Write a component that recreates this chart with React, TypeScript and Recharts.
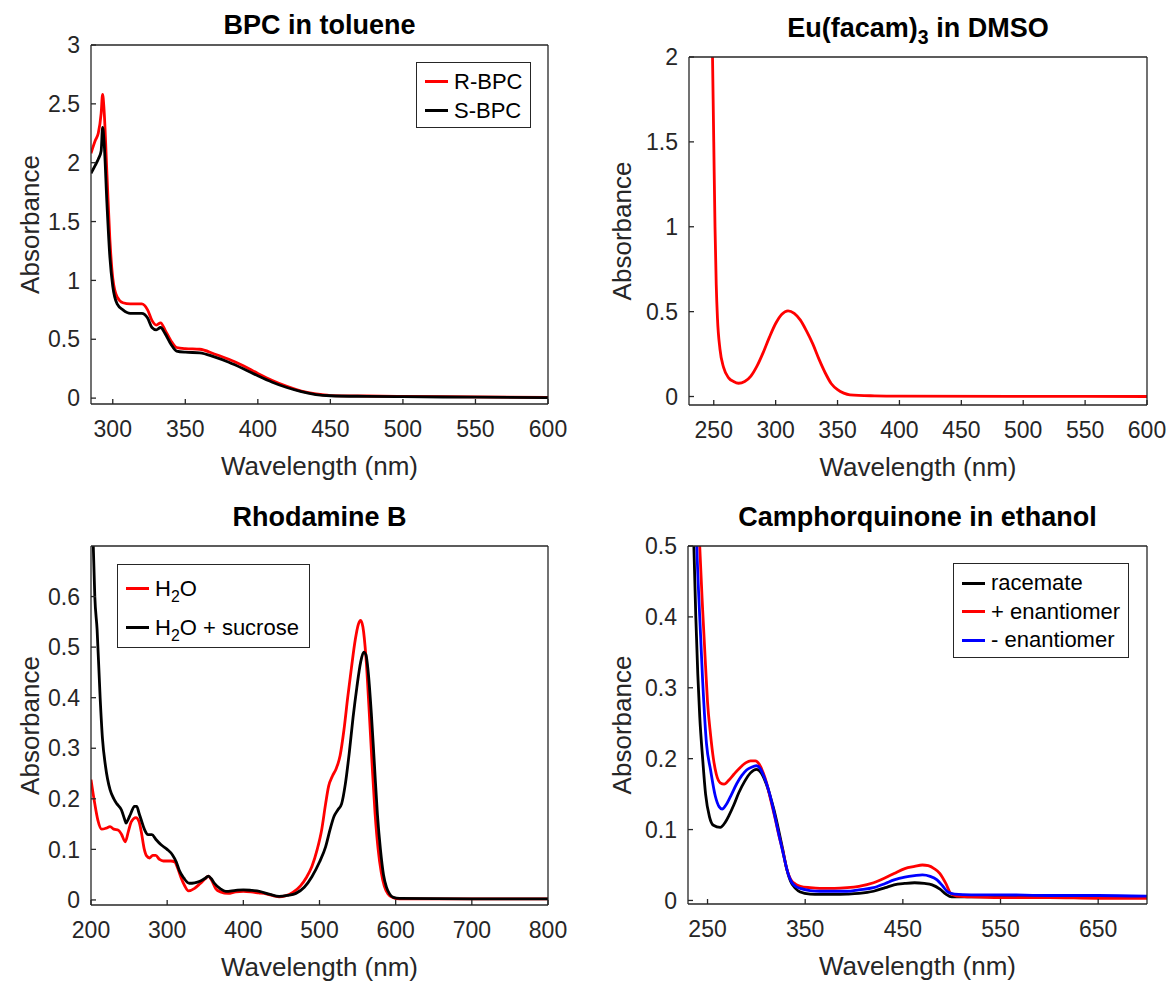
import React from 'react';
import { LineChart, Line, XAxis, YAxis, Legend } from 'recharts';

const FONT = '"Liberation Sans", Arial, Helvetica, sans-serif';
const INK = '#262626';
const PANEL_W = 585;
const XAXIS_H = 70;

// BPC in toluene
const bpcWavelengths = [285, 288, 290, 292, 293, 294, 296, 298, 300, 303, 307, 312, 317, 320, 324, 327, 330, 333, 336, 340, 344, 350, 360, 370, 380, 390, 400, 410, 420, 430, 440, 450, 475, 500, 550, 600];
const rBpcAbs = [2.08, 2.19, 2.25, 2.42, 2.58, 2.45, 1.9, 1.35, 1.02, 0.86, 0.81, 0.8, 0.8, 0.8, 0.75, 0.66, 0.62, 0.64, 0.58, 0.49, 0.43, 0.42, 0.415, 0.375, 0.33, 0.275, 0.21, 0.15, 0.1, 0.06, 0.035, 0.022, 0.018, 0.015, 0.01, 0.005];
const sBpcAbs = [1.91, 1.98, 2.03, 2.1, 2.3, 2.18, 1.65, 1.2, 0.95, 0.8, 0.75, 0.72, 0.72, 0.72, 0.68, 0.6, 0.58, 0.6, 0.55, 0.46, 0.4, 0.39, 0.385, 0.35, 0.305, 0.25, 0.19, 0.135, 0.09, 0.055, 0.03, 0.02, 0.015, 0.012, 0.008, 0.004];
const bpcXTicks = [300, 350, 400, 450, 500, 550, 600];
const bpcYTicks = [0, 0.5, 1, 1.5, 2, 2.5, 3];

// Eu(facam)3 in DMSO
const euWavelengths = [245, 247, 249, 250, 251, 252, 253, 255, 258, 262, 266, 270, 275, 280, 285, 290, 295, 300, 305, 310, 315, 320, 325, 330, 335, 340, 345, 350, 355, 360, 380, 400, 500, 600];
const euAbs = [4.0, 3.0, 2.0, 1.5, 1.0, 0.66, 0.46, 0.28, 0.17, 0.11, 0.088, 0.078, 0.088, 0.12, 0.18, 0.26, 0.35, 0.43, 0.485, 0.505, 0.49, 0.45, 0.385, 0.31, 0.22, 0.14, 0.075, 0.04, 0.02, 0.01, 0.004, 0.002, 0.001, 0];
const euXTicks = [250, 300, 350, 400, 450, 500, 550, 600];
const euYTicks = [0, 0.5, 1, 1.5, 2];

// Rhodamine B
const h2oWavelengths = [200, 205, 209, 214, 220, 225, 230, 236, 240, 245, 249, 253, 259, 263, 266, 270, 273, 277, 281, 285, 290, 295, 305, 310, 314, 318, 323, 328, 336, 343, 350, 354, 358, 364, 370, 380, 390, 400, 410, 420, 430, 440, 447, 455, 465, 475, 483, 490, 497, 503, 508, 512, 517, 522, 527, 532, 537, 542, 547, 551, 554, 557, 561, 565, 569, 573, 577, 581, 585, 590, 596, 605, 700, 800];
const h2oAbs = [0.238, 0.19, 0.158, 0.14, 0.142, 0.145, 0.14, 0.138, 0.13, 0.115, 0.135, 0.155, 0.163, 0.155, 0.135, 0.1, 0.087, 0.083, 0.088, 0.088, 0.08, 0.077, 0.077, 0.075, 0.062, 0.045, 0.028, 0.018, 0.023, 0.032, 0.042, 0.047, 0.04, 0.022, 0.016, 0.013, 0.016, 0.017, 0.016, 0.014, 0.012, 0.008, 0.006, 0.008, 0.015, 0.028, 0.045, 0.066, 0.1, 0.14, 0.19, 0.225, 0.245, 0.26, 0.285, 0.335, 0.4, 0.46, 0.515, 0.545, 0.553, 0.54, 0.48, 0.38, 0.27, 0.17, 0.1, 0.055, 0.028, 0.012, 0.005, 0.002, 0.002, 0.002];
const sucroseWavelengths = [200, 203, 205, 208, 212, 215, 219, 225, 230, 234, 240, 244, 246, 249, 252, 257, 260, 263, 266, 270, 275, 280, 285, 292, 300, 307, 312, 316, 322, 329, 336, 343, 350, 354, 358, 362, 370, 377, 390, 400, 410, 421, 435, 447, 458, 469, 480, 490, 500, 508, 514, 519, 524, 529, 534, 539, 544, 549, 554, 558, 561, 564, 568, 572, 576, 580, 584, 588, 592, 597, 605, 700, 800];
const sucroseAbs = [0.9, 0.7, 0.6, 0.535, 0.4, 0.32, 0.265, 0.218, 0.2, 0.19, 0.178, 0.16, 0.152, 0.16, 0.17, 0.185, 0.185, 0.172, 0.158, 0.14, 0.129, 0.129, 0.12, 0.109, 0.1, 0.089, 0.075, 0.058, 0.043, 0.033, 0.034, 0.037, 0.043, 0.047, 0.042, 0.033, 0.022, 0.017, 0.019, 0.02, 0.019, 0.017, 0.011, 0.007, 0.009, 0.013, 0.025, 0.046, 0.075, 0.105, 0.14, 0.165, 0.178, 0.19, 0.23, 0.29, 0.36, 0.42, 0.47, 0.49, 0.485, 0.45, 0.37, 0.27, 0.17, 0.1, 0.05, 0.025, 0.012, 0.005, 0.003, 0.002, 0.002];
const rhoXTicks = [200, 300, 400, 500, 600, 700, 800];
const rhoYTicks = [0, 0.1, 0.2, 0.3, 0.4, 0.5, 0.6];

// Camphorquinone in ethanol
const racemateWavelengths = [233, 236, 238, 240, 242, 245, 248, 252, 256, 263, 268, 272, 277, 282, 288, 294, 300, 305, 310, 314, 318, 323, 327, 331, 335, 340, 345, 355, 365, 380, 393, 405, 420, 432, 441, 452, 462, 472, 480, 488, 494, 500, 510, 550, 600, 650, 700];
const racemateAbs = [0.62, 0.5, 0.4, 0.32, 0.26, 0.2, 0.15, 0.118, 0.106, 0.103, 0.11, 0.12, 0.135, 0.152, 0.168, 0.18, 0.185, 0.18, 0.165, 0.148, 0.128, 0.098, 0.072, 0.045, 0.027, 0.017, 0.012, 0.009, 0.0085, 0.0085, 0.009, 0.01, 0.013, 0.018, 0.022, 0.024, 0.025, 0.024, 0.022, 0.016, 0.009, 0.005, 0.005, 0.005, 0.005, 0.004, 0.004];
const plusWavelengths = [238, 240, 242, 245, 248, 250, 253, 256, 259, 263, 267, 272, 277, 283, 289, 294, 299, 303, 307, 311, 315, 319, 323, 327, 331, 335, 340, 345, 355, 365, 380, 393, 405, 420, 432, 441, 452, 462, 470, 476, 482, 488, 494, 499, 505, 520, 550, 600, 650, 700];
const plusAbs = [0.65, 0.58, 0.5, 0.41, 0.33, 0.28, 0.235, 0.2, 0.178, 0.166, 0.164, 0.17, 0.178, 0.187, 0.194, 0.197, 0.197, 0.192, 0.18, 0.163, 0.14, 0.117, 0.092, 0.07, 0.045, 0.03, 0.023, 0.02, 0.018, 0.017, 0.017, 0.018, 0.02, 0.025, 0.032, 0.038, 0.045, 0.048, 0.05, 0.049, 0.045, 0.038, 0.024, 0.01, 0.006, 0.005, 0.004, 0.004, 0.003, 0.003];
const minusWavelengths = [235, 237, 239, 242, 245, 249, 253, 258, 262, 265, 269, 274, 280, 285, 290, 295, 300, 304, 308, 312, 316, 320, 324, 328, 332, 336, 340, 345, 355, 365, 380, 393, 405, 420, 432, 441, 452, 462, 470, 478, 485, 491, 496, 503, 520, 550, 600, 650, 700];
const minusAbs = [0.7, 0.6, 0.5, 0.4, 0.31, 0.22, 0.185, 0.147, 0.132, 0.129, 0.135, 0.148, 0.165, 0.176, 0.184, 0.188, 0.19, 0.186, 0.174, 0.158, 0.137, 0.112, 0.087, 0.063, 0.04, 0.026, 0.02, 0.017, 0.014, 0.013, 0.013, 0.013, 0.015, 0.018, 0.024, 0.029, 0.033, 0.035, 0.036, 0.034, 0.029, 0.02, 0.012, 0.009, 0.008, 0.008, 0.007, 0.007, 0.006];
const cqXTicks = [250, 350, 450, 550, 650];
const cqYTicks = [0, 0.1, 0.2, 0.3, 0.4, 0.5];

type Pt = { wl: number; a: number };
const toPoints = (wl: number[], a: number[]): Pt[] => wl.map((w, i) => ({ wl: w, a: a[i] }));

interface Series { name: string; color: string; data: Pt[] }
interface Box { left: number; right: number; top: number; bottom: number }
interface LegendSpec { left: number; top: number; width: number; height: number; padTop: number; row: number }

// "H_2O" -> H with a lowered 2, then O
const chem = (s: string) =>
    s.split(/_(\d)/).map((part, i) =>
        i % 2 ? (
            <span key={i} style={{ fontSize: '0.72em', position: 'relative', top: '0.38em' }}>{part}</span>
        ) : (
            <React.Fragment key={i}>{part}</React.Fragment>
        )
    );

interface PanelProps {
    x: number;
    y: number;
    h: number;
    plot: Box;
    title: string;
    titleY: number;
    yLabelX: number;
    xDomain: [number, number];
    xTicks: number[];
    yDomain: [number, number];
    yTicks: number[];
    series: Series[];
    legend?: LegendSpec;
}

const Panel: React.FC<PanelProps> = ({ x, y, h, plot, title, titleY, yLabelX, xDomain, xTicks, yDomain, yTicks, series, legend }) => {
    // top and right axes are 1px tall/wide so they draw the box edges and the mirrored ticks
    const margin = { top: plot.top - 1, right: PANEL_W - plot.right - 1, bottom: h - plot.bottom - XAXIS_H, left: 0 };
    const midX = (plot.left + plot.right) / 2;
    const midY = (plot.top + plot.bottom) / 2;
    const tick = { fill: INK, fontSize: 23, fontFamily: FONT };
    const line = { stroke: INK, strokeWidth: 1.3 };

    return (
        <div style={{ position: 'absolute', left: x, top: y, width: PANEL_W, height: h }}>
            <div
                style={{
                    position: 'absolute', left: plot.left, width: plot.right - plot.left, top: titleY - 16, height: 32,
                    lineHeight: '32px', textAlign: 'center', fontSize: 27, fontWeight: 'bold', color: '#000', whiteSpace: 'nowrap',
                }}
            >
                {chem(title)}
            </div>
            <LineChart width={PANEL_W} height={h} margin={margin}>
                <XAxis
                    xAxisId="bottom" type="number" dataKey="wl" domain={xDomain} ticks={xTicks} allowDataOverflow interval={0}
                    height={XAXIS_H} axisLine={line} tickLine={line} tickSize={-5} tickMargin={22} tick={tick}
                    label={() => (
                        <text x={midX} y={plot.bottom + 62} textAnchor="middle" dominantBaseline="central" fill={INK} fontSize={26} fontFamily={FONT}>
                            Wavelength (nm)
                        </text>
                    )}
                />
                <XAxis
                    xAxisId="top" orientation="top" type="number" dataKey="wl" domain={xDomain} ticks={xTicks} allowDataOverflow interval={0}
                    height={1} axisLine={line} tickLine={line} tickSize={-5} tick={false}
                />
                <YAxis
                    yAxisId="left" type="number" domain={yDomain} ticks={yTicks} allowDataOverflow interval={0}
                    width={plot.left} axisLine={line} tickLine={line} tickSize={-5} tickMargin={16} tick={tick}
                    label={() => (
                        <text
                            x={yLabelX} y={midY} transform={`rotate(-90 ${yLabelX} ${midY})`} textAnchor="middle" dominantBaseline="central"
                            fill={INK} fontSize={26} fontFamily={FONT}
                        >
                            Absorbance
                        </text>
                    )}
                />
                <YAxis
                    yAxisId="right" orientation="right" type="number" domain={yDomain} ticks={yTicks} allowDataOverflow interval={0}
                    width={1} axisLine={line} tickLine={line} tickSize={-5} tick={false}
                />
                {/* invisible copy so the top/right axes have data attached */}
                <Line
                    xAxisId="top" yAxisId="right" data={series[0].data} dataKey="a" stroke="none" dot={false} activeDot={false}
                    legendType="none" isAnimationActive={false}
                />
                {series.map((s) => (
                    <Line
                        key={s.name} xAxisId="bottom" yAxisId="left" data={s.data} dataKey="a" name={s.name} type="monotone"
                        stroke={s.color} strokeWidth={2.8} dot={false} activeDot={false} isAnimationActive={false}
                    />
                ))}
                {legend && (
                    <Legend
                        layout="vertical" align="center" verticalAlign="middle"
                        wrapperStyle={{ left: legend.left, top: legend.top, width: 'auto', height: 'auto' }}
                        content={(props: any) => {
                            const payload: any[] = props.payload || [];
                            const items = series.map((s) => payload.find((p) => p.value === s.name) || { value: s.name, color: s.color });
                            return (
                                <div
                                    style={{
                                        boxSizing: 'border-box', width: legend.width, height: legend.height, border: `1px solid ${INK}`,
                                        background: '#fff', paddingTop: legend.padTop, fontFamily: FONT, fontSize: 22, color: '#000',
                                    }}
                                >
                                    {items.map((it) => (
                                        <div key={it.value} style={{ height: legend.row, display: 'flex', alignItems: 'center', whiteSpace: 'nowrap' }}>
                                            <span style={{ display: 'inline-block', width: 23, height: 3, background: it.color, marginLeft: 8, marginRight: 6 }} />
                                            <span>{chem(String(it.value))}</span>
                                        </div>
                                    ))}
                                </div>
                            );
                        }}
                    />
                )}
            </LineChart>
        </div>
    );
};

export default function App() {
    return (
        <div style={{ position: 'absolute', left: 0, top: 0, width: 1170, height: 981, background: '#fff', fontFamily: FONT }}>
            <Panel
                x={0} y={0} h={490} plot={{ left: 91, right: 548, top: 45, bottom: 404 }}
                title="BPC in toluene" titleY={25} yLabelX={30}
                xDomain={[285, 600]} xTicks={bpcXTicks} yDomain={[-0.05, 3]} yTicks={bpcYTicks}
                series={[
                    { name: 'R-BPC', color: '#ff0000', data: toPoints(bpcWavelengths, rBpcAbs) },
                    { name: 'S-BPC', color: '#000000', data: toPoints(bpcWavelengths, sBpcAbs) },
                ]}
                legend={{ left: 416, top: 62, width: 115, height: 66, padTop: 4, row: 29 }}
            />
            <Panel
                x={585} y={0} h={490} plot={{ left: 104, right: 562, top: 57, bottom: 405 }}
                title="Eu(facam)_3 in DMSO" titleY={28} yLabelX={37}
                xDomain={[230, 600]} xTicks={euXTicks} yDomain={[-0.05, 2]} yTicks={euYTicks}
                series={[{ name: 'Eu(facam)3', color: '#ff0000', data: toPoints(euWavelengths, euAbs) }]}
            />
            <Panel
                x={0} y={490} h={491} plot={{ left: 91, right: 548, top: 56, bottom: 415 }}
                title="Rhodamine B" titleY={27} yLabelX={30}
                xDomain={[200, 800]} xTicks={rhoXTicks} yDomain={[-0.01, 0.7]} yTicks={rhoYTicks}
                series={[
                    { name: 'H_2O', color: '#ff0000', data: toPoints(h2oWavelengths, h2oAbs) },
                    { name: 'H_2O + sucrose', color: '#000000', data: toPoints(sucroseWavelengths, sucroseAbs) },
                ]}
                legend={{ left: 117, top: 74, width: 193, height: 84, padTop: 4, row: 39 }}
            />
            <Panel
                x={585} y={490} h={491} plot={{ left: 103, right: 562, top: 56, bottom: 414 }}
                title="Camphorquinone in ethanol" titleY={27} yLabelX={37}
                xDomain={[230, 700]} xTicks={cqXTicks} yDomain={[-0.005, 0.5]} yTicks={cqYTicks}
                series={[
                    { name: 'racemate', color: '#000000', data: toPoints(racemateWavelengths, racemateAbs) },
                    { name: '+ enantiomer', color: '#ff0000', data: toPoints(plusWavelengths, plusAbs) },
                    { name: '- enantiomer', color: '#0000ff', data: toPoints(minusWavelengths, minusAbs) },
                ]}
                legend={{ left: 368, top: 73, width: 176, height: 95, padTop: 5, row: 28.5 }}
            />
        </div>
    );
}
